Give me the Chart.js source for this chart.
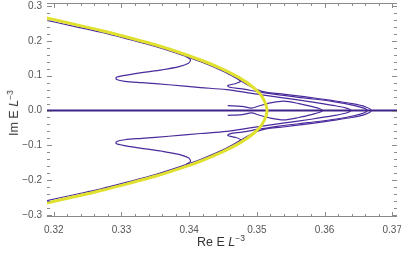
<!DOCTYPE html>
<html>
<head>
<meta charset="utf-8">
<script src="https://cdn.jsdelivr.net/npm/chart.js@4.4.1/dist/chart.umd.min.js"></script>
<style>
  html, body { margin: 0; padding: 0; background: #fff; }
  #wrap { position: relative; width: 401px; height: 257px; }
  .ttl { position: absolute; font-family: "Liberation Sans", Arial, sans-serif; font-size: 12.5px; color: #333; white-space: nowrap; }
  .ttl sup { font-size: 8.5px; vertical-align: 5px; line-height: 0; }
  #xt { left: 197px; top: 235px; }
  #yt { left: -9px; top: 106px; transform: rotate(-90deg); transform-origin: 50% 50%; }
</style>
</head>
<body>
<div id="wrap">
  <canvas id="spec" width="401" height="257"></canvas>
  <div class="ttl" id="xt">Re E <i>L</i><sup>&minus;3</sup></div>
  <div class="ttl" id="yt">Im E <i>L</i><sup>&minus;3</sup></div>
</div>
<script>
// ticks
const xTicks = [0.32, 0.33, 0.34, 0.35, 0.36, 0.37];
const yTicks = [-0.3, -0.2, -0.1, 0.0, 0.1, 0.2, 0.3];

// upper half of each trajectory (Re, Im); lower half is the mirror image
const yellowRe = [0.3185, 0.3230, 0.3270, 0.3310, 0.3350, 0.3390, 0.3420, 0.3450, 0.3475, 0.3495, 0.3508, 0.3515];
const yellowIm = [0.268, 0.248, 0.230, 0.210, 0.189, 0.164, 0.143, 0.118, 0.093, 0.066, 0.039, 0.0];

const outerRe = [0.3185, 0.3230, 0.3270, 0.3310, 0.3350, 0.3390, 0.3420, 0.3450, 0.3472, 0.3488, 0.3500, 0.3515, 0.3536, 0.3570, 0.3610, 0.3640, 0.3660, 0.3669];
const outerIm = [0.261, 0.242, 0.225, 0.205, 0.184, 0.159, 0.138, 0.113, 0.090, 0.072, 0.060, 0.052, 0.048, 0.040, 0.029, 0.020, 0.011, 0.0];

const bigSRe = [0.3396, 0.3402, 0.3399, 0.3385, 0.3360, 0.3330, 0.3305, 0.3292, 0.3293, 0.3305, 0.3330, 0.3370, 0.3417, 0.3455, 0.3490, 0.3536, 0.3580, 0.3615, 0.3632, 0.3639];
const bigSIm = [0.154, 0.146, 0.136, 0.126, 0.117, 0.109, 0.101, 0.095, 0.089, 0.084, 0.080, 0.074, 0.066, 0.060, 0.050, 0.037, 0.025, 0.014, 0.007, 0.0];

const smallSRe = [0.3472, 0.3476, 0.3468, 0.3457, 0.3460, 0.3478, 0.3505, 0.3536, 0.3575, 0.3615, 0.3643, 0.3658, 0.3663];
const smallSIm = [0.092, 0.084, 0.077, 0.072, 0.067, 0.062, 0.053, 0.044, 0.035, 0.025, 0.015, 0.007, 0.0];

const innerRe = [0.3457, 0.3478, 0.3492, 0.3503, 0.3520, 0.3540, 0.3562, 0.3582, 0.3593, 0.3597];
const innerIm = [0.014, 0.012, 0.007, 0.013, 0.022, 0.027, 0.020, 0.011, 0.005, 0.0];

// eigenvalues on the real axis
const realRe = [0.319, 0.3707];
const realIm = [0.0, 0.0];

const X_MIN = 0.319, X_MAX = 0.3707, Y_MIN = -0.306, Y_MAX = 0.309;

function closed(re, im) {
    // upper branch, then mirrored lower branch back out
    const up = re.map((r, i) => ({ x: r, y: im[i] }));
    const down = re.map((r, i) => ({ x: r, y: -im[i] })).reverse();
    if (im[im.length - 1] === 0) down.shift();
    return up.concat(down);
}

function lineSet(data, color, width, order) {
    return {
        data: data,
        borderColor: color,
        borderWidth: width,
        pointRadius: 0,
        tension: 0.3,
        fill: false,
        order: order
    };
}

function noPad(s) {
    s.paddingLeft = 0; s.paddingRight = 0; s.paddingTop = 0; s.paddingBottom = 0;
}

const purple = '#4a2a9c';

const frameTicks = {
    id: 'frameTicks',
    afterDraw(chart) {
        const { ctx, chartArea: a, scales: { x, y } } = chart;
        ctx.save();
        ctx.strokeStyle = '#8a8a8a';
        ctx.lineWidth = 1;
        ctx.beginPath();
        ctx.moveTo(a.left, a.top + 0.5); ctx.lineTo(a.right, a.top + 0.5);
        ctx.moveTo(a.left, a.bottom - 0.5); ctx.lineTo(a.right, a.bottom - 0.5);
        for (let k = 0; k <= 25; k++) {
            const px = Math.round(x.getPixelForValue(0.32 + k * 0.002)) + 0.5;
            const len = k % 5 === 0 ? 5 : 3;
            ctx.moveTo(px, a.bottom); ctx.lineTo(px, a.bottom - len);
            ctx.moveTo(px, a.top); ctx.lineTo(px, a.top + len);
        }
        for (let k = -15; k <= 15; k++) {
            const py = Math.round(y.getPixelForValue(k * 0.02)) + 0.5;
            const len = k % 5 === 0 ? 5 : 3;
            ctx.moveTo(a.left, py); ctx.lineTo(a.left + len, py);
            ctx.moveTo(a.right, py); ctx.lineTo(a.right - len, py);
        }
        ctx.stroke();
        ctx.restore();
    }
};

new Chart(document.getElementById('spec'), {
    type: 'line',
    data: {
        datasets: [
            lineSet(closed(yellowRe, yellowIm), '#e0e02e', 3, 0),
            lineSet(realRe.map((r, i) => ({ x: r, y: realIm[i] })), '#3e2388', 2, 1),
            lineSet(closed(outerRe, outerIm), purple, 1.2, 2),
            lineSet(closed(bigSRe, bigSIm), purple, 1.2, 2),
            lineSet(closed(smallSRe, smallSIm), purple, 1.2, 2),
            lineSet(closed(innerRe, innerIm), purple, 1.2, 2)
        ]
    },
    options: {
        responsive: false,
        animation: false,
        devicePixelRatio: 1,
        layout: { padding: { top: 3, right: 4, left: 0, bottom: 0 } },
        plugins: { legend: { display: false }, tooltip: { enabled: false } },
        scales: {
            x: {
                type: 'linear',
                min: X_MIN,
                max: X_MAX,
                grid: { display: false, drawTicks: false },
                border: { display: false },
                afterBuildTicks: (s) => { s.ticks = xTicks.map(v => ({ value: v })); },
                afterFit: (s) => { s.height = 40; noPad(s); },
                ticks: {
                    padding: 7,
                    color: '#555',
                    font: { family: 'Liberation Sans', size: 10 },
                    callback: (v) => v.toFixed(2)
                }
            },
            y: {
                type: 'linear',
                min: Y_MIN,
                max: Y_MAX,
                grid: { display: false, drawTicks: false },
                border: { display: false },
                afterBuildTicks: (s) => { s.ticks = yTicks.map(v => ({ value: v })); },
                afterFit: (s) => { s.width = 47; noPad(s); },
                ticks: {
                    padding: 5,
                    color: '#555',
                    font: { family: 'Liberation Sans', size: 10 },
                    callback: (v) => (v < 0 ? '\u2212' : '') + Math.abs(v).toFixed(1)
                }
            }
        }
    },
    plugins: [frameTicks]
});
</script>
</body>
</html>
